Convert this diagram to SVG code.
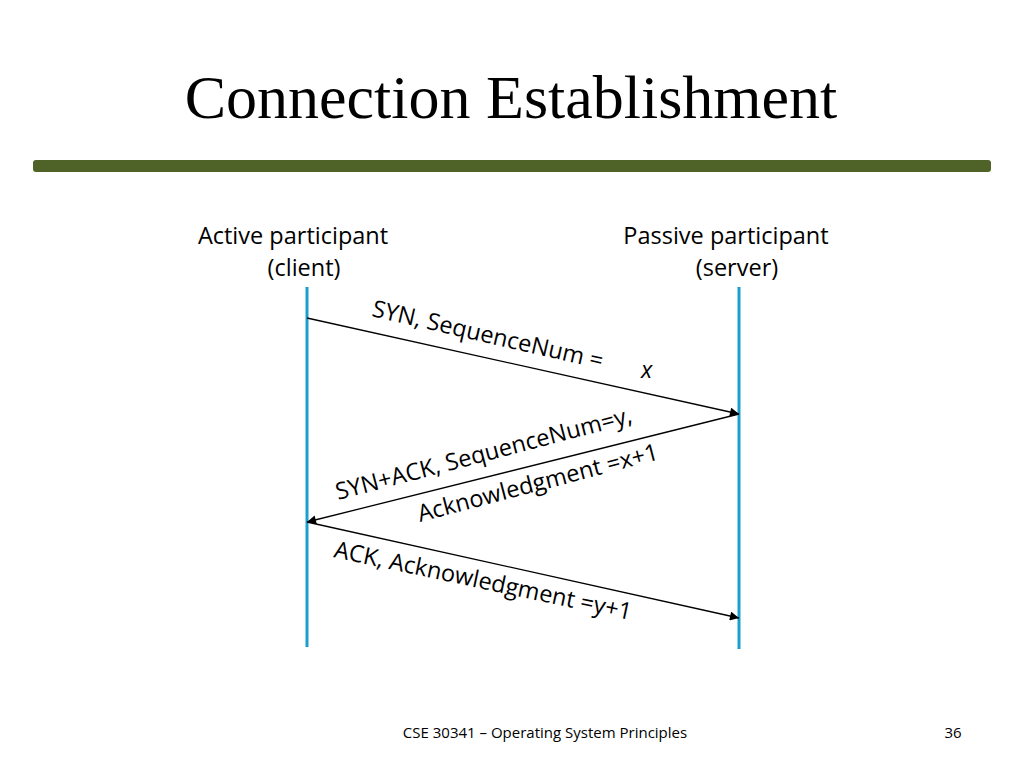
<svg xmlns="http://www.w3.org/2000/svg" width="1024" height="768" viewBox="0 0 1024 768">
<defs>
<style>
.t{font-family:"Open Sans","Liberation Sans",sans-serif;font-size:23.5px;fill:#000}
.h{font-family:"Open Sans","Liberation Sans",sans-serif;font-size:21px;fill:#000}
.life{stroke:#1a9fd0;stroke-width:3}
.msg{stroke:#000;stroke-width:1.3;fill:none;marker-end:url(#ah)}
</style>
<marker id="ah" viewBox="0 0 10 10" refX="10" refY="5" markerWidth="12" markerHeight="9" markerUnits="userSpaceOnUse" orient="auto"><path d="M0,0L10,5L0,10z" fill="#000"/></marker>
</defs>
<rect width="1024" height="768" fill="#fff"/>
<text x="511" y="118" text-anchor="middle" font-family="Liberation Serif,serif" font-size="62">Connection Establishment</text>
<rect x="33" y="160" width="958" height="12" rx="3" fill="#4f6228"/>
<g id="client"><text class="t" x="293" y="244" text-anchor="middle" style="font-size:23.5px">Active participant</text><text class="t" x="304" y="276" text-anchor="middle">(client)</text><line class="life" x1="307" y1="287" x2="307" y2="647"/></g>
<g id="server"><text class="t" x="726" y="244" text-anchor="middle">Passive participant</text><text class="t" x="737" y="276" text-anchor="middle">(server)</text><line class="life" x1="739" y1="287" x2="739" y2="649"/></g>
<g id="connectors">
<line class="msg" x1="307" y1="318" x2="739" y2="414"/>
<line class="msg" x1="739" y1="414" x2="307" y2="522"/>
<line class="msg" x1="307" y1="522" x2="739" y2="618"/>
</g>
<g id="labels">
<text class="t" transform="translate(371,316) rotate(13)">SYN, SequenceNum =</text>
<text class="t" font-style="italic" x="641" y="378">x</text>
<text class="t" transform="translate(338,500) rotate(-14.7)">SYN+ACK, SequenceNum=y,</text>
<text class="t" transform="translate(420,522) rotate(-14.7)">Acknowledgment =x+1</text>
<text class="t" transform="translate(333,557) rotate(12)">ACK, Acknowledgment =y+1</text>
</g>
<text x="545" y="738" text-anchor="middle" font-family="Open Sans,Liberation Sans,sans-serif" font-size="15">CSE 30341 – Operating System Principles</text>
<text x="953" y="738" text-anchor="middle" font-family="Open Sans,Liberation Sans,sans-serif" font-size="15">36</text>
</svg>
